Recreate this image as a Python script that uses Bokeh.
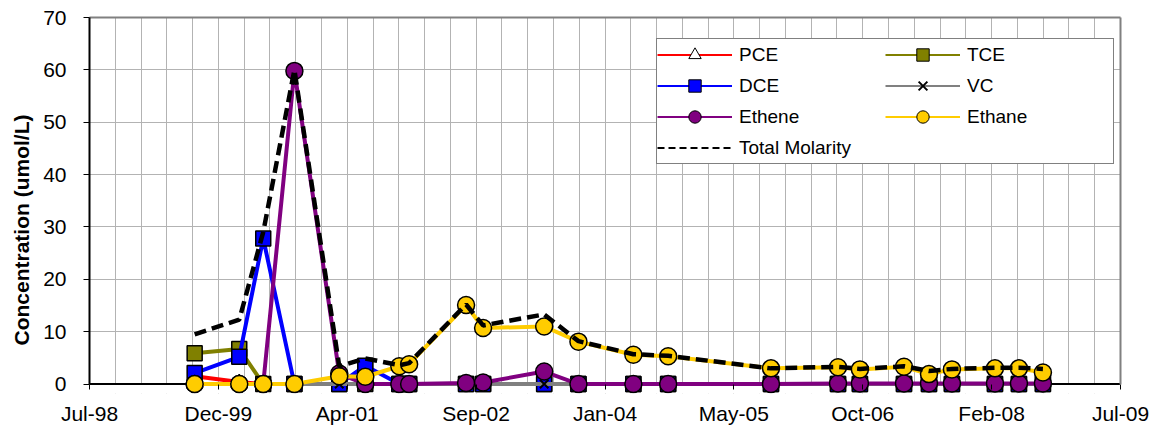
import pandas as pd
from bokeh.plotting import figure
from bokeh.models import (FixedTicker, Legend, LegendItem, Title, Range1d,
                          ColumnDataSource, LinearAxis, Span, BoxAnnotation)
from bokeh.embed import file_html
from bokeh.resources import INLINE

# ---------------- data ----------------
dates = ["1999-09-05", "2000-02-25", "2000-05-28", "2000-09-26", "2001-03-19",
         "2001-06-28", "2001-11-07", "2001-12-15", "2002-07-24", "2002-09-28",
         "2003-05-23", "2003-10-03", "2004-05-03", "2004-09-15", "2005-10-19",
         "2006-07-06", "2006-09-29", "2007-03-19", "2007-06-24", "2007-09-21",
         "2008-03-06", "2008-06-07", "2008-09-08"]
pce    = [1.5, 0.4, 0, 0, 0, 0, 0, 0, 0, 0, 0, 0, 0, 0, 0, 0, 0, 0, 0, 0, 0, 0, 0]
tce    = [5.9, 6.7, 0, 0, 0, 0, 0, 0, 0, 0, 0, 0, 0, 0, 0, 0, 0, 0, 0, 0, 0, 0, 0]
dce    = [2.1, 5.2, 27.8, 0, 0, 3.5, 0, 0, 0, 0, 0, 0, 0, 0, 0, 0, 0, 0, 0, 0, 0, 0, 0]
vc     = [0, 0, 0, 0, 0, 0, 0, 0, 0, 0, 0, 0, 0, 0, 0, 0, 0, 0, 0, 0, 0, 0, 0]
ethene = [0, 0, 0, 59.8, 2.0, 0, 0, 0, 0.2, 0.3, 2.4, 0, 0, 0, 0, 0.1, 0.1, 0.1,
          0.1, 0.1, 0.1, 0.1, 0.1]
ethane = [0, 0, 0, 0, 1.5, 1.4, 3.4, 3.8, 15.1, 10.7, 11.0, 8.1, 5.6, 5.3, 3.0,
          3.2, 2.8, 3.3, 1.9, 2.8, 3.0, 3.0, 2.2]
total  = [9.5, 12.3, 29.0, 60.0, 3.4, 4.9, 3.6, 4.0, 15.2, 11.2, 13.3, 8.2, 5.7,
          5.4, 3.0, 3.3, 2.9, 3.4, 2.5, 2.9, 3.1, 3.1, 2.9]

tick_labels = ["Jul-98", "Dec-99", "Apr-01", "Sep-02", "Jan-04", "May-05",
               "Oct-06", "Feb-08", "Jul-09"]
axis_start = 36000      # Excel serial day of the axis start
major_unit = 500        # days
minor_unit = 100        # days
y_ticks = [0, 10, 20, 30, 40, 50, 60, 70]
y_title = "Concentration (umol/L)"

# Excel-style serial day numbers
x = list((pd.to_datetime(dates) - pd.Timestamp("1899-12-30")).days.astype(float))

FONT = "Liberation Sans"
W, H = 1150, 430
Y_MIN, Y_MAX = 0, 70
Y_PAD = 1.8            # room below zero so markers at 0 are not clipped
x_end = axis_start + major_unit * (len(tick_labels) - 1)

p = figure(width=W, height=H, output_backend="svg", toolbar_location=None,
           x_range=Range1d(axis_start, x_end),
           y_range=Range1d(Y_MIN - Y_PAD, Y_MAX),
           min_border_left=88, min_border_right=W - 1120, min_border_top=17,
           min_border_bottom=37)
p.background_fill_color = "white"
p.border_fill_color = "white"
p.outline_line_color = None

major = [axis_start + major_unit * i for i in range(len(tick_labels))]
minor = [axis_start + minor_unit * i for i in range(int((x_end - axis_start) / minor_unit) + 1)]
p.xaxis.ticker = FixedTicker(ticks=major, minor_ticks=minor)
p.xaxis.major_label_overrides = {m: lab for m, lab in zip(major, tick_labels)}
p.yaxis.ticker = FixedTicker(ticks=y_ticks)
p.yaxis.bounds = (Y_MIN, Y_MAX)

for ax in (p.xaxis, p.yaxis):
    ax.axis_line_color = "black"
    ax.axis_line_width = 2
    ax.major_tick_line_color = "black"
    ax.major_tick_line_width = 1
    ax.minor_tick_line_color = None
    ax.major_label_text_font = FONT
    ax.major_label_text_font_size = "21px"
    ax.major_label_text_color = "black"
p.xaxis.axis_line_color = None
p.xaxis.major_tick_in = 9
p.xaxis.major_tick_out = -4
p.xaxis.major_label_standoff = 4
p.yaxis.major_tick_in = 0
p.yaxis.major_tick_out = 6
p.yaxis.major_label_standoff = 17

# grey plot-area border on top and right
top_ax = LinearAxis(ticker=FixedTicker(ticks=[]), axis_line_color="#808080",
                    axis_line_width=2, major_tick_line_color=None,
                    minor_tick_line_color=None)
right_ax = LinearAxis(ticker=FixedTicker(ticks=[]), axis_line_color="#808080",
                      axis_line_width=2, major_tick_line_color=None,
                      minor_tick_line_color=None, bounds=(Y_MIN, Y_MAX))
p.add_layout(top_ax, "above")
p.add_layout(right_ax, "right")

p.xgrid.grid_line_color = "#b3b3b3"
p.xgrid.minor_grid_line_color = "#b3b3b3"
p.ygrid.grid_line_color = "#b3b3b3"

# blank strip below zero and the black category axis line at zero
p.add_layout(BoxAnnotation(top=Y_MIN, fill_color="white", fill_alpha=1.0,
                           line_color=None, level="underlay"))
p.add_layout(Span(location=Y_MIN, dimension="width", line_color="black",
                  line_width=2, level="underlay"))

src = ColumnDataSource(dict(x=x, pce=pce, tce=tce, dce=dce, vc=vc,
                            ethene=ethene, ethane=ethane, total=total))

series = [
    ("PCE", "pce", "#FF0000", "triangle", "white", 13),
    ("TCE", "tce", "#808000", "square", "#808000", 15),
    ("DCE", "dce", "#0000FF", "square", "#0000FF", 15),
    ("VC", "vc", "#808080", "x", None, 12),
    ("Ethene", "ethene", "#800080", "circle", "#800080", 17),
    ("Ethane", "ethane", "#FFCC00", "circle", "#FFCC00", 17),
]

# legend proxies: a source holding one missing point, so nothing shows in the plot
proxy = ColumnDataSource(dict(x=[float("nan")], y=[float("nan")]))
items = []
for name, col, color, marker, fill, size in series:
    p.line("x", col, source=src, line_color=color, line_width=4)
    if marker == "x":
        p.scatter("x", col, source=src, marker="x", size=size,
                  line_color="black", line_width=2)
    else:
        p.scatter("x", col, source=src, marker=marker, size=size,
                  fill_color=fill, line_color="black", line_width=1.5)
    lr = p.line("x", "y", source=proxy, line_color=color, line_width=2)
    if marker == "x":
        sr = p.scatter("x", "y", source=proxy, marker="x", size=11,
                       line_color="black", line_width=2)
    else:
        sr = p.scatter("x", "y", source=proxy, marker=marker, size=11,
                       fill_color=fill, line_color="black", line_width=1)
    items.append(LegendItem(label=name, renderers=[lr, sr]))

p.line("x", "total", source=src, line_color="black", line_width=4.5,
       line_dash="12 6")
tl = p.line("x", "y", source=proxy, line_color="black", line_width=2,
            line_dash="7 4")
items.append(LegendItem(label="Total Molarity", renderers=[tl]))

legend = Legend(items=items, location=(567, 229), orientation="horizontal",
                ncols=2, glyph_width=75, glyph_height=31, label_height=31,
                label_width=146, label_standoff=7, padding=0, spacing=0,
                margin=0, label_text_font=FONT, label_text_font_size="19px",
                label_text_color="black",
                border_line_color="#808080", border_line_width=1,
                border_line_alpha=1.0,
                background_fill_color="white", background_fill_alpha=1.0)
p.add_layout(legend, "center")

ytitle = Title(text=y_title, align="left", offset=48, standoff=15,
               text_font=FONT, text_font_style="bold", text_font_size="21px",
               text_color="black")
p.add_layout(ytitle, "left")

open("out.html", "w").write(file_html(p, INLINE))
